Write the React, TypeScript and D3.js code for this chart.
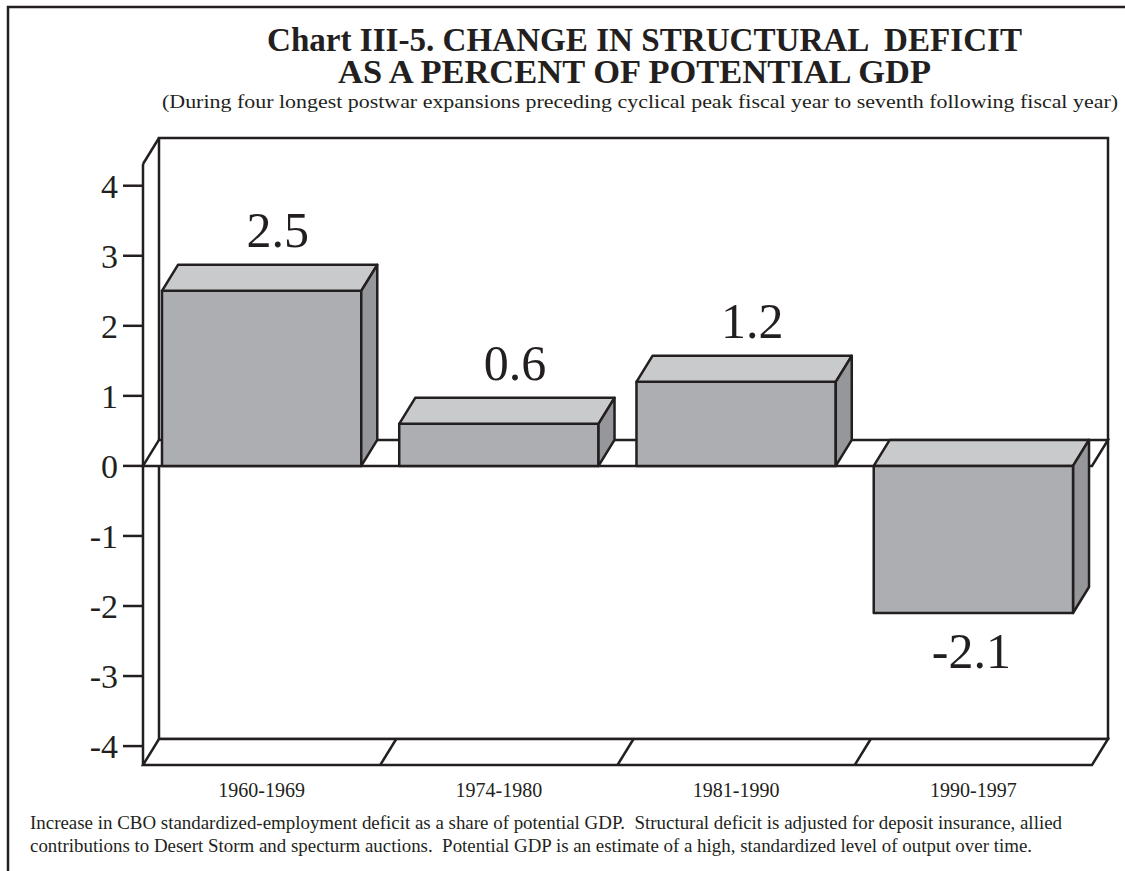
import React from 'react';
import * as d3 from 'd3';

const categories = ['1960-1969', '1974-1980', '1981-1990', '1990-1997'];
const values = [2.5, 0.6, 1.2, -2.1];
const valueLabels = ['2.5', '0.6', '1.2', '-2.1'];
const yTicks = [4, 3, 2, 1, 0, -1, -2, -3, -4];
const yDomain = [-4.27, 4.31];

const titleLine1 = 'Chart III-5. CHANGE IN STRUCTURAL  DEFICIT';
const titleLine2 = 'AS A PERCENT OF POTENTIAL GDP';
const subtitle = '(During four longest postwar expansions preceding cyclical peak fiscal year to seventh following fiscal year)';
const note1 = 'Increase in CBO standardized-employment deficit as a share of potential GDP.  Structural deficit is adjusted for deposit insurance, allied';
const note2 = 'contributions to Desert Storm and specturm auctions.  Potential GDP is an estimate of a high, standardized level of output over time.';

const W = 1125;
const H = 871;
const INK = '#231f20';
const FRONT = '#adaeb1';
const TOP = '#c9cacc';
const SIDE = '#96979a';
const SW = 2.5;
const FONT = '"Liberation Serif", "Times New Roman", Times, serif';

export default function App() {
  const X0 = 143;
  const X1 = 1092;
  const DX = 16;
  const DY = 26;
  const yTopFront = 164;
  const yBotFront = 765;

  const x = d3.scaleBand<string>().domain(categories).range([X0, X1]).paddingInner(0.16).paddingOuter(0.08);
  const y = d3.scaleLinear().domain(yDomain).range([yBotFront, yTopFront]);
  const y0 = y(0);
  const step = x.step();
  const bw = x.bandwidth();

  const pts = (arr: number[][]) => arr.map((p) => p.join(',')).join(' ');

  return (
    <svg
      width={W}
      height={H}
      viewBox={`0 0 ${W} ${H}`}
      style={{ position: 'absolute', left: 0, top: 0, display: 'block', background: '#fff' }}
      fontFamily={FONT}
    >
      <rect x={0} y={0} width={W} height={H} fill="#fff" />
      {/* outer frame (right and bottom clipped) */}
      <path d={`M8,${H + 5} L8,7 L${W + 5},7`} fill="none" stroke={INK} strokeWidth={SW} />

      {/* titles */}
      <text fontSize={34} fontWeight="bold" fill={INK} style={{ whiteSpace: 'pre' }}>
        <tspan x={267} y={51} textLength={755} lengthAdjust="spacingAndGlyphs">
          {titleLine1}
        </tspan>
        <tspan x={338} y={83} textLength={593} lengthAdjust="spacingAndGlyphs">
          {titleLine2}
        </tspan>
      </text>
      <text x={162} y={108} fontSize={19.5} fill={INK} textLength={956} lengthAdjust="spacingAndGlyphs">
        {subtitle}
      </text>

      {/* back wall */}
      <rect x={X0 + DX} y={yTopFront - DY} width={X1 - X0} height={yBotFront - yTopFront} fill="#fff" stroke={INK} strokeWidth={SW} />
      {/* left side edge */}
      <line x1={X0} y1={yTopFront} x2={X0 + DX} y2={yTopFront - DY} stroke={INK} strokeWidth={SW} />
      {/* floor */}
      <polygon
        points={pts([[X0, yBotFront], [X1, yBotFront], [X1 + DX, yBotFront - DY], [X0 + DX, yBotFront - DY]])}
        fill="#fff"
        stroke={INK}
        strokeWidth={SW}
      />
      {categories.slice(1).map((c, i) => {
        const bx = X0 + step * (i + 1);
        return <line key={c} x1={bx} y1={yBotFront} x2={bx + DX} y2={yBotFront - DY} stroke={INK} strokeWidth={SW} />;
      })}
      {/* zero plane */}
      <polygon
        points={pts([[X0, y0], [X1, y0], [X1 + DX, y0 - DY], [X0 + DX, y0 - DY]])}
        fill="#fff"
        stroke={INK}
        strokeWidth={SW}
      />
      {/* front axis line */}
      <line x1={X0} y1={yTopFront} x2={X0} y2={yBotFront} stroke={INK} strokeWidth={SW} />
      {/* ticks */}
      {yTicks.map((t) => (
        <g key={t}>
          <line x1={X0 - 20} y1={y(t)} x2={X0} y2={y(t)} stroke={INK} strokeWidth={SW} />
          <text x={118} y={y(t) + 12} fontSize={34} textAnchor="end" fill={INK}>
            {String(t)}
          </text>
        </g>
      ))}

      {/* bars */}
      {categories.map((c, i) => {
        const v = values[i];
        const bx0 = x(c) as number;
        const bx1 = bx0 + bw;
        const yv = y(v);
        if (v >= 0) {
          return (
            <g key={c} stroke={INK} strokeWidth={SW} strokeLinejoin="round">
              <rect x={bx0} y={yv} width={bw} height={y0 - yv} fill={FRONT} />
              <polygon points={pts([[bx0, yv], [bx0 + DX, yv - DY], [bx1 + DX, yv - DY], [bx1, yv]])} fill={TOP} />
              <polygon points={pts([[bx1, yv], [bx1 + DX, yv - DY], [bx1 + DX, y0 - DY], [bx1, y0]])} fill={SIDE} />
            </g>
          );
        }
        return (
          <g key={c} stroke={INK} strokeWidth={SW} strokeLinejoin="round">
            <polygon points={pts([[bx0, y0], [bx0 + DX, y0 - DY], [bx1 + DX, y0 - DY], [bx1, y0]])} fill={TOP} />
            <polygon points={pts([[bx1, y0], [bx1 + DX, y0 - DY], [bx1 + DX, yv - DY], [bx1, yv]])} fill={SIDE} />
            <rect x={bx0} y={y0} width={bw} height={yv - y0} fill={FRONT} />
          </g>
        );
      })}

      {/* value labels */}
      {categories.map((c, i) => {
        const v = values[i];
        const cx = (x(c) as number) + bw / 2;
        const yv = y(v);
        return v >= 0 ? (
          <text key={c} x={cx + DX} y={yv - DY - 18} fontSize={50} textAnchor="middle" fill={INK}>
            {valueLabels[i]}
          </text>
        ) : (
          <text key={c} x={cx - 2} y={yv + 55} fontSize={50} textAnchor="middle" fill={INK}>
            {valueLabels[i]}
          </text>
        );
      })}

      {/* category labels */}
      {categories.map((c, i) => (
        <text key={c} x={X0 + step * i + step / 2} y={797} fontSize={20} textAnchor="middle" fill={INK}>
          {c}
        </text>
      ))}

      {/* notes */}
      <text x={30} y={829} fontSize={18.5} fill={INK} textLength={1032} lengthAdjust="spacingAndGlyphs" style={{ whiteSpace: 'pre' }}>
        {note1}
      </text>
      <text x={30} y={852} fontSize={18.5} fill={INK} textLength={1002} lengthAdjust="spacingAndGlyphs" style={{ whiteSpace: 'pre' }}>
        {note2}
      </text>
    </svg>
  );
}
